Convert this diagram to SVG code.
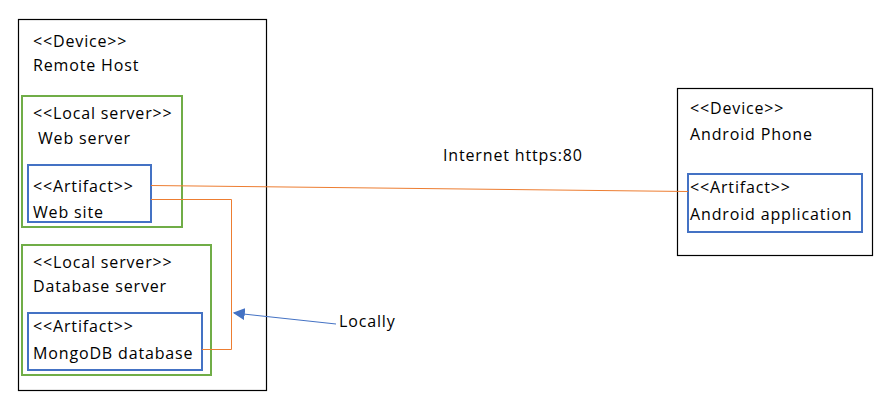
<svg xmlns="http://www.w3.org/2000/svg" width="896" height="409" viewBox="0 0 896 409">
<defs>
<style>
text{font-family:"Open Sans","Liberation Sans",sans-serif;font-size:16px;letter-spacing:0.85px;fill:#000}
.dev{fill:#fff;stroke:#000;stroke-width:1.2}
.srv{fill:none;stroke:#70AD47;stroke-width:2}
.art{fill:none;stroke:#4472C4;stroke-width:2}
.or{fill:none;stroke:#ED7D31;stroke-width:1}
</style>
<marker id="ah" viewBox="0 0 10 10" refX="9" refY="5" markerWidth="12" markerHeight="12" markerUnits="userSpaceOnUse" orient="auto">
<path d="M0,0 L10,5 L0,10 z" fill="#4472C4"/>
</marker>
</defs>
<rect width="896" height="409" fill="#fff"/>
<g id="remote-host">
<rect class="dev" x="18.5" y="19.5" width="248" height="371"/>
<text x="33" y="47">&lt;&lt;Device&gt;&gt;</text>
<text x="33" y="71">Remote Host</text>
</g>
<g id="android-phone">
<rect class="dev" x="677.5" y="88.5" width="195" height="167"/>
<text x="690" y="114">&lt;&lt;Device&gt;&gt;</text>
<text x="690" y="140">Android Phone</text>
</g>
<g id="web-server">
<rect class="srv" x="22" y="96" width="160" height="131"/>
<text x="33" y="119">&lt;&lt;Local server&gt;&gt;</text>
<text x="38" y="144">Web server</text>
</g>
<g id="web-site">
<rect class="art" x="28" y="165" width="123" height="57"/>
<text x="33" y="192">&lt;&lt;Artifact&gt;&gt;</text>
<text x="33" y="218">Web site</text>
</g>
<g id="database-server">
<rect class="srv" x="22" y="245" width="189" height="130"/>
<text x="33" y="268">&lt;&lt;Local server&gt;&gt;</text>
<text x="33" y="292">Database server</text>
</g>
<g id="mongodb">
<rect class="art" x="28" y="313" width="174" height="57"/>
<text x="33" y="332">&lt;&lt;Artifact&gt;&gt;</text>
<text x="33" y="359">MongoDB database</text>
</g>
<g id="android-app">
<rect class="art" x="688" y="174" width="174" height="58"/>
<text x="690" y="193">&lt;&lt;Artifact&gt;&gt;</text>
<text x="690" y="220">Android application</text>
</g>
<g id="connectors">
<path class="or" d="M151,185.5 L688,191.5"/>
<path class="or" d="M151,199.5 L231.5,199.5 L231.5,349.5 L202,349.5"/>
<path d="M336,324 L234,313" fill="none" stroke="#4472C4" stroke-width="1" marker-end="url(#ah)"/>
<text x="443" y="161">Internet https:80</text>
<text x="339" y="327">Locally</text>
</g>
</svg>
